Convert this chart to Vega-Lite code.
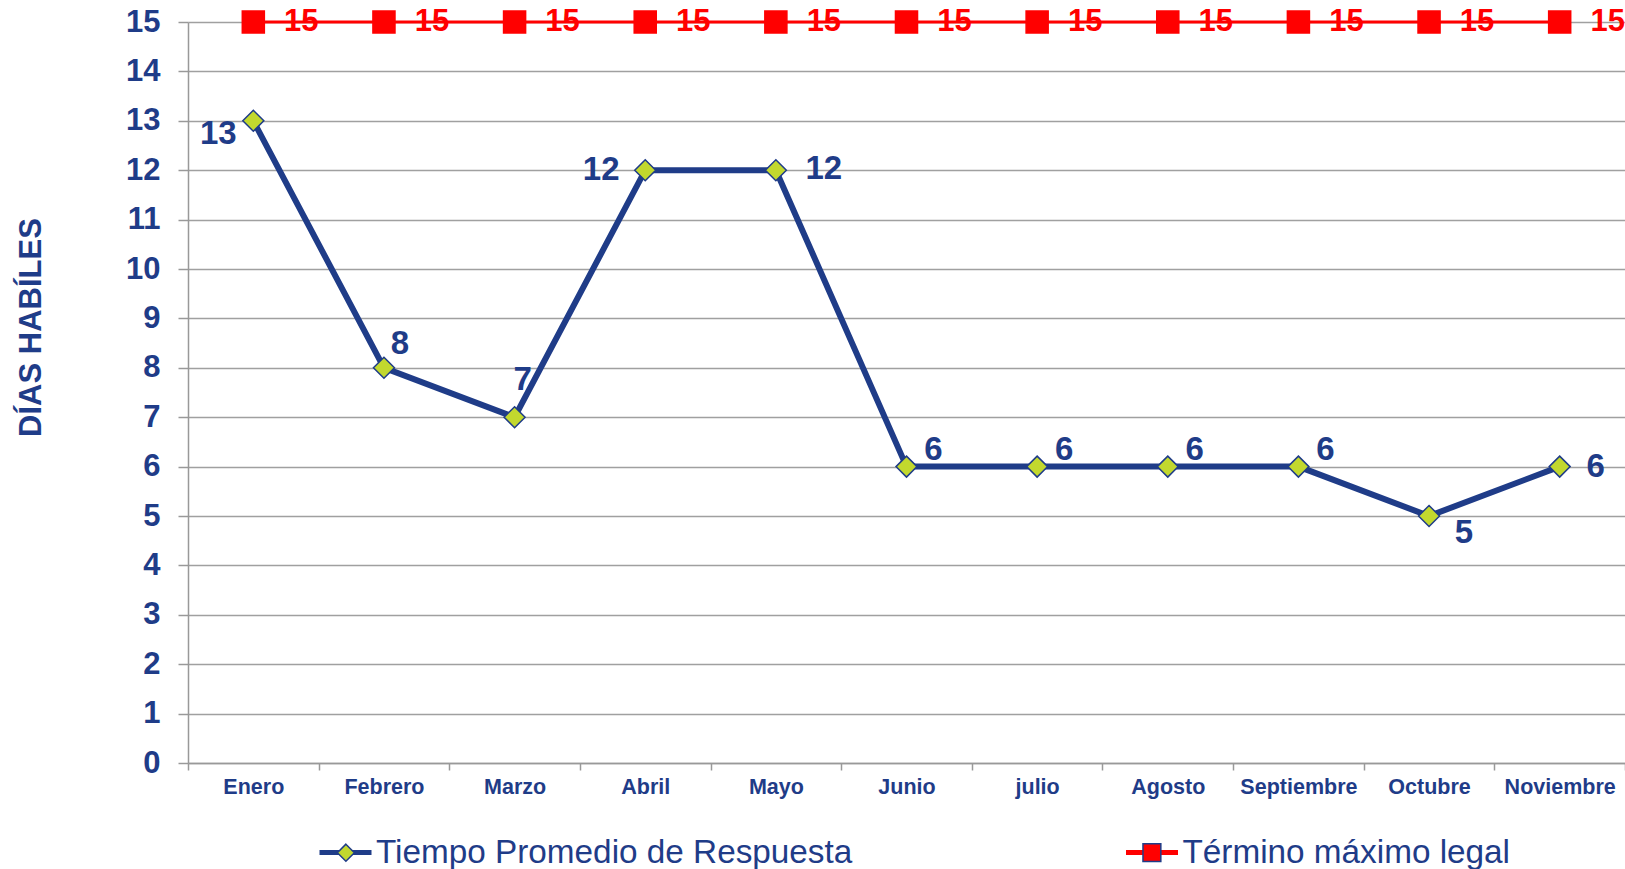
{
  "$schema": "https://vega.github.io/schema/vega-lite/v6.json",
  "width": 1437,
  "height": 741,
  "autosize": {"type": "none"},
  "padding": {"left": 188, "top": 22, "right": 0, "bottom": 106},
  "background": "white",
  "config": {
    "font": "Liberation Sans",
    "view": {"stroke": null}
  },
  "data": {
    "values": [
      {"mes": "Enero", "serie": "Tiempo Promedio de Respuesta", "dias": 13},
      {"mes": "Febrero", "serie": "Tiempo Promedio de Respuesta", "dias": 8},
      {"mes": "Marzo", "serie": "Tiempo Promedio de Respuesta", "dias": 7},
      {"mes": "Abril", "serie": "Tiempo Promedio de Respuesta", "dias": 12},
      {"mes": "Mayo", "serie": "Tiempo Promedio de Respuesta", "dias": 12},
      {"mes": "Junio", "serie": "Tiempo Promedio de Respuesta", "dias": 6},
      {"mes": "julio", "serie": "Tiempo Promedio de Respuesta", "dias": 6},
      {"mes": "Agosto", "serie": "Tiempo Promedio de Respuesta", "dias": 6},
      {"mes": "Septiembre", "serie": "Tiempo Promedio de Respuesta", "dias": 6},
      {"mes": "Octubre", "serie": "Tiempo Promedio de Respuesta", "dias": 5},
      {"mes": "Noviembre", "serie": "Tiempo Promedio de Respuesta", "dias": 6},
      {"mes": "Enero", "serie": "Término máximo legal", "dias": 15},
      {"mes": "Febrero", "serie": "Término máximo legal", "dias": 15},
      {"mes": "Marzo", "serie": "Término máximo legal", "dias": 15},
      {"mes": "Abril", "serie": "Término máximo legal", "dias": 15},
      {"mes": "Mayo", "serie": "Término máximo legal", "dias": 15},
      {"mes": "Junio", "serie": "Término máximo legal", "dias": 15},
      {"mes": "julio", "serie": "Término máximo legal", "dias": 15},
      {"mes": "Agosto", "serie": "Término máximo legal", "dias": 15},
      {"mes": "Septiembre", "serie": "Término máximo legal", "dias": 15},
      {"mes": "Octubre", "serie": "Término máximo legal", "dias": 15},
      {"mes": "Noviembre", "serie": "Término máximo legal", "dias": 15}
    ]
  },
  "encoding": {
    "x": {
      "field": "mes",
      "type": "nominal",
      "sort": ["Enero", "Febrero", "Marzo", "Abril", "Mayo", "Junio", "julio", "Agosto", "Septiembre", "Octubre", "Noviembre"],
      "scale": {"type": "band", "paddingInner": 0, "paddingOuter": 0},
      "axis": {
        "title": null,
        "labelAngle": 0,
        "labelFontSize": 21.5,
        "labelFontWeight": "bold",
        "labelColor": "#1F3C88",
        "labelPadding": 6,
        "tickBand": "extent",
        "tickSize": 7,
        "tickColor": "#999999",
        "tickWidth": 1.5,
        "domainColor": "#999999",
        "domainWidth": 1.5,
        "grid": false
      }
    },
    "y": {
      "field": "dias",
      "type": "quantitative",
      "scale": {"domain": [0, 15], "nice": false},
      "axis": {
        "title": "DÍAS HABÍLES",
        "titleFontSize": 31,
        "titleFontWeight": "bold",
        "titleColor": "#1F3C88",
        "titleX": -157,
        "titleY": 305,
        "titleBaseline": "middle",
        "titleAngle": -90,
        "values": [0, 1, 2, 3, 4, 5, 6, 7, 8, 9, 10, 11, 12, 13, 14, 15],
        "labelFontSize": 31,
        "labelFontWeight": "bold",
        "labelColor": "#1F3C88",
        "labelPadding": 18,
        "tickSize": 10,
        "tickColor": "#999999",
        "tickWidth": 1.5,
        "domainColor": "#999999",
        "domainWidth": 1.5,
        "grid": true,
        "gridColor": "#A0A0A0",
        "gridWidth": 1.5
      }
    }
  },
  "layer": [
    {
      "mark": {"type": "line"},
      "encoding": {
        "stroke": {
          "field": "serie",
          "type": "nominal",
          "scale": {"domain": ["Tiempo Promedio de Respuesta", "Término máximo legal"], "range": ["#1F3C88", "#FF0000"]},
          "legend": {
            "orient": "none",
            "legendX": 129,
            "legendY": 802,
            "direction": "horizontal",
            "title": null,
            "padding": 0,
            "symbolType": "M-1,0H1",
            "symbolSize": 2704,
            "symbolStrokeWidth": 5,
            "labelFontSize": 33.3,
            "labelColor": "#1F3C88",
            "labelOffset": 2,
            "labelLimit": 1000,
            "columnPadding": 262.5,
            "zindex": 1
          }
        },
        "strokeWidth": {
          "condition": {"test": "datum.serie === 'Término máximo legal'", "value": 3},
          "value": 6
        }
      }
    },
    {
      "mark": {"type": "point", "filled": true, "opacity": 1, "size": 441, "strokeWidth": 1.5},
      "encoding": {
        "fill": {
          "field": "serie",
          "type": "nominal",
          "scale": {"range": ["#C2D82E", "#FF0000"]},
          "legend": {
            "orient": "none",
            "legendX": 141.25,
            "legendY": 814,
            "direction": "horizontal",
            "title": null,
            "padding": 0,
            "symbolSize": 289,
            "symbolStrokeWidth": 1.5,
            "labelFontSize": 33.3,
            "labelExpr": "' '",
            "labelColor": "#1F3C88",
            "labelOffset": 21.25,
            "labelLimit": 1000,
            "columnPadding": 751,
            "zindex": 2
          }
        },
        "shape": {
          "field": "serie",
          "type": "nominal",
          "scale": {"range": ["M0,-1L1,0L0,1L-1,0Z", "M-1.05,-1.05H1.05V1.05H-1.05Z"]},
          "legend": {
            "orient": "none",
            "legendX": 141.25,
            "legendY": 814,
            "direction": "horizontal",
            "title": null,
            "padding": 0,
            "symbolSize": 289,
            "symbolStrokeWidth": 1.5,
            "labelFontSize": 33.3,
            "labelExpr": "' '",
            "labelColor": "#1F3C88",
            "labelOffset": 21.25,
            "labelLimit": 1000,
            "columnPadding": 751,
            "zindex": 2
          }
        },
        "stroke": {
          "condition": {"test": "datum.serie === 'Término máximo legal'", "value": "#FF0000"},
          "value": "#1F3C88"
        }
      }
    },
    {
      "transform": [{"filter": "datum.serie === 'Término máximo legal'"}],
      "mark": {"type": "text", "dx": 48, "dy": 0, "fontSize": 31, "fontWeight": "bold", "color": "#FF0000", "baseline": "middle", "align": "center"},
      "encoding": {"text": {"field": "dias", "type": "quantitative"}}
    },
    {
      "transform": [{"filter": "datum.serie === 'Tiempo Promedio de Respuesta' && datum.mes === 'Enero'"}],
      "mark": {"type": "text", "dx": -35, "dy": 13, "fontSize": 33, "fontWeight": "bold", "color": "#1F3C88", "baseline": "middle", "align": "center"},
      "encoding": {"text": {"field": "dias", "type": "quantitative"}}
    },
    {
      "transform": [{"filter": "datum.serie === 'Tiempo Promedio de Respuesta' && datum.mes === 'Febrero'"}],
      "mark": {"type": "text", "dx": 16, "dy": -24, "fontSize": 33, "fontWeight": "bold", "color": "#1F3C88", "baseline": "middle", "align": "center"},
      "encoding": {"text": {"field": "dias", "type": "quantitative"}}
    },
    {
      "transform": [{"filter": "datum.serie === 'Tiempo Promedio de Respuesta' && datum.mes === 'Marzo'"}],
      "mark": {"type": "text", "dx": 8, "dy": -37, "fontSize": 33, "fontWeight": "bold", "color": "#1F3C88", "baseline": "middle", "align": "center"},
      "encoding": {"text": {"field": "dias", "type": "quantitative"}}
    },
    {
      "transform": [{"filter": "datum.serie === 'Tiempo Promedio de Respuesta' && datum.mes === 'Abril'"}],
      "mark": {"type": "text", "dx": -44, "dy": 0, "fontSize": 33, "fontWeight": "bold", "color": "#1F3C88", "baseline": "middle", "align": "center"},
      "encoding": {"text": {"field": "dias", "type": "quantitative"}}
    },
    {
      "transform": [{"filter": "datum.serie === 'Tiempo Promedio de Respuesta' && datum.mes === 'Mayo'"}],
      "mark": {"type": "text", "dx": 48, "dy": -1, "fontSize": 33, "fontWeight": "bold", "color": "#1F3C88", "baseline": "middle", "align": "center"},
      "encoding": {"text": {"field": "dias", "type": "quantitative"}}
    },
    {
      "transform": [{"filter": {"and": [{"field": "serie", "equal": "Tiempo Promedio de Respuesta"}, {"field": "mes", "oneOf": ["Junio", "julio", "Agosto", "Septiembre"]}]}}],
      "mark": {"type": "text", "dx": 27, "dy": -17, "fontSize": 33, "fontWeight": "bold", "color": "#1F3C88", "baseline": "middle", "align": "center"},
      "encoding": {"text": {"field": "dias", "type": "quantitative"}}
    },
    {
      "transform": [{"filter": "datum.serie === 'Tiempo Promedio de Respuesta' && datum.mes === 'Octubre'"}],
      "mark": {"type": "text", "dx": 35, "dy": 17, "fontSize": 33, "fontWeight": "bold", "color": "#1F3C88", "baseline": "middle", "align": "center"},
      "encoding": {"text": {"field": "dias", "type": "quantitative"}}
    },
    {
      "transform": [{"filter": "datum.serie === 'Tiempo Promedio de Respuesta' && datum.mes === 'Noviembre'"}],
      "mark": {"type": "text", "dx": 36, "dy": 0, "fontSize": 33, "fontWeight": "bold", "color": "#1F3C88", "baseline": "middle", "align": "center"},
      "encoding": {"text": {"field": "dias", "type": "quantitative"}}
    }
  ]
}
